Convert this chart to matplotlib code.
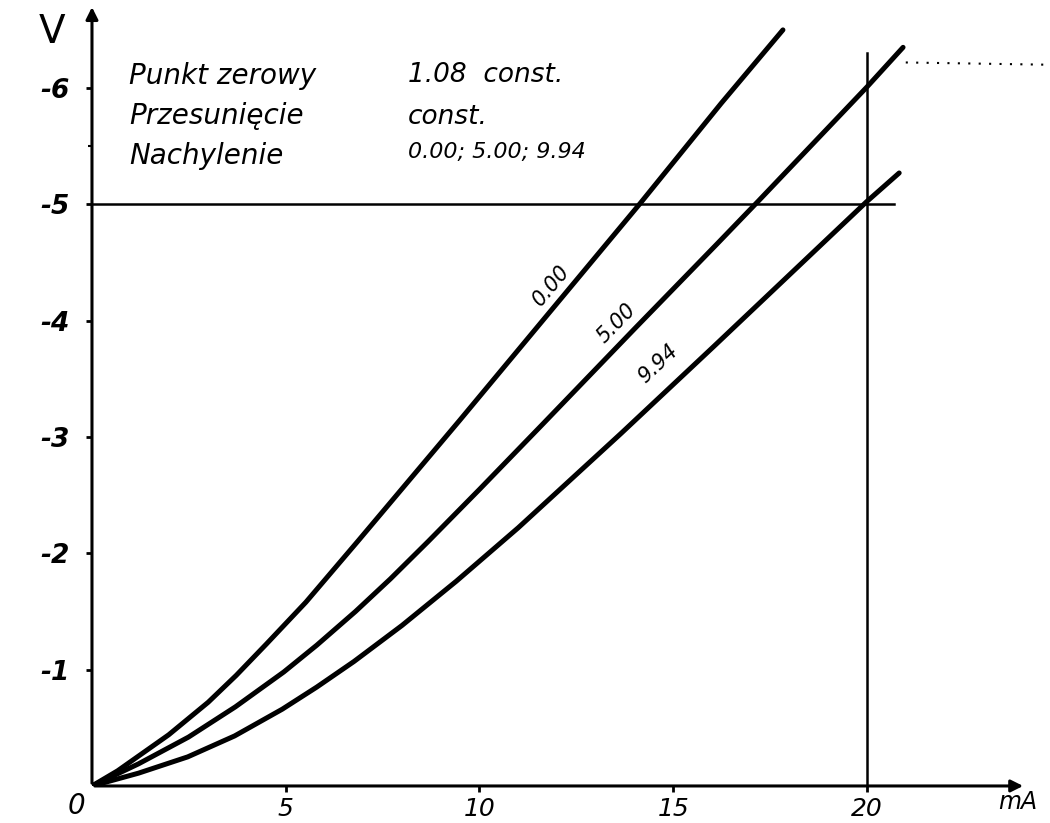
import matplotlib
matplotlib.use('Agg')
import matplotlib.pyplot as plt

plt.rcParams['font.family'] = ['DejaVu Sans']
plt.rcParams['axes.unicode_minus'] = False

# characteristic curves: current (mA) vs voltage (V), slope setting 0.00 / 5.00 / 9.94
i_000 = [0, 0.66, 1.98, 3.0, 3.72, 4.5, 5.52, 6.85, 9.48, 14.15, 16.24, 17.83]
u_000 = [0, -0.13, -0.44, -0.72, -0.95, -1.22, -1.58, -2.10, -3.14, -5.01, -5.87, -6.50]

i_500 = [0, 1.2, 2.49, 3.70, 4.95, 5.8, 6.80, 7.7, 8.67, 10.0, 11.6, 14.0, 16.13, 17.2, 20.0, 20.93]
u_500 = [0, -0.19, -0.42, -0.68, -0.98, -1.21, -1.50, -1.78, -2.10, -2.55, -3.10, -3.93,
         -4.66, -5.03, -6.01, -6.35]

i_994 = [0, 1.2, 2.47, 3.68, 4.91, 5.8, 6.76, 8.0, 9.40, 11.0, 13.65, 16.05, 19.98, 20.83]
u_994 = [0, -0.11, -0.25, -0.43, -0.66, -0.85, -1.07, -1.38, -1.76, -2.22, -3.03, -3.78,
         -5.02, -5.27]

curve_names = ['0.00', '5.00', '9.94']
x_ticks = [5, 10, 15, 20]
y_ticks = [-1, -2, -3, -4, -5, -6]

ref_u = -5.0      # horizontal reference line
ref_i = 20.0      # vertical reference line

info_left = ['Punkt zerowy', 'Przesunięcie', 'Nachylenie']
info_right = ['1.08  const.', 'const.', '0.00; 5.00; 9.94']

fig = plt.figure(figsize=(10.5, 8.23), dpi=100)
ax = fig.add_axes([0.0876, 0.045, 0.9079, 0.954])
ax.set_xlim(0, 24.6)
ax.set_ylim(0, -6.75)
for s in ax.spines.values():
    s.set_visible(False)

# axes with arrows
ax.annotate('', xy=(0, -6.72), xytext=(0, 0),
            arrowprops=dict(arrowstyle='-|>', lw=2.2, color='black', mutation_scale=18))
ax.annotate('', xy=(24.1, 0), xytext=(0, 0),
            arrowprops=dict(arrowstyle='-|>', lw=2.2, color='black', mutation_scale=18))

# curves
lw = 3.6
for xs, ys in [(i_000, u_000), (i_500, u_500), (i_994, u_994)]:
    ax.plot(xs, ys, color='black', lw=lw, solid_capstyle='round', solid_joinstyle='round')

# reference lines
ax.plot([0, 20.7], [ref_u, ref_u], color='black', lw=1.8)
ax.plot([ref_i, ref_i], [0, -6.3], color='black', lw=1.8)
ax.plot([21.0, 24.8], [-6.22, -6.20], color='black', lw=1.5,
        linestyle=(0, (1, 4)), clip_on=False)

# ticks
ax.set_xticks(x_ticks)
ax.set_xticklabels([str(t) for t in x_ticks], fontsize=18, style='italic')
ax.set_yticks(y_ticks)
ax.set_yticklabels([str(t) for t in y_ticks], fontsize=19, fontweight='bold', style='italic')
ax.set_yticks([-5.5], minor=True)
ax.tick_params(axis='both', which='major', direction='out', length=4, width=2)
ax.tick_params(axis='y', which='minor', direction='out', length=3, width=1.5)
ax.tick_params(axis='y', pad=12)
ax.tick_params(axis='x', pad=4)

ax.text(-0.39, 0.17, '0', fontsize=20, style='italic', ha='center', va='center')
ax.text(23.9, 0.14, 'mA', fontsize=17, style='italic', ha='center', va='center')
ax.text(-1.04, -6.48, 'V', fontsize=28, ha='center', va='center')

# curve labels
lab_pos = [(11.84, -4.30, 50), (13.54, -3.98, 45.5), (14.6, -3.63, 43)]
for name, (x, y, rot) in zip(curve_names, lab_pos):
    ax.text(x, y, name, fontsize=15, style='italic', rotation=rot,
            rotation_mode='anchor', ha='center', va='center')

# info block
left_y = [-6.10, -5.76, -5.42]
right_y = [-6.11, -5.75, -5.45]
for txt, y in zip(info_left, left_y):
    ax.text(0.95, y, txt, fontsize=20, style='italic', ha='left', va='center')
for txt, y, fs in zip(info_right, right_y, [19, 19, 16]):
    ax.text(8.15, y, txt, fontsize=fs, style='italic', ha='left', va='center')

fig.savefig('out.png', dpi=100, facecolor='white')
